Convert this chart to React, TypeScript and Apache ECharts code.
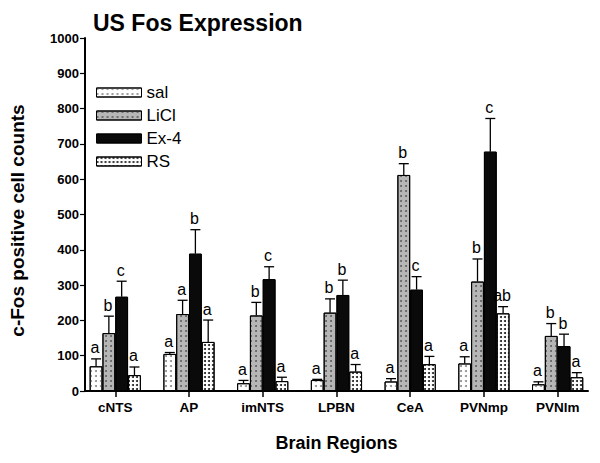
import React, { useEffect, useRef } from "react";
import * as echarts from "echarts";

const categories = ["cNTS", "AP", "imNTS", "LPBN", "CeA", "PVNmp", "PVNlm"];
const groupNames = ["sal", "LiCl", "Ex-4", "RS"];

const salMean = [70, 105, 22, 31, 27, 78, 19];
const salSem = [21, 4, 8, 2, 8, 19, 7];
const salLetters = ["a", "a", "a", "a", "a", "a", "a"];

const liclMean = [164, 218, 214, 222, 612, 310, 156];
const liclSem = [48, 39, 37, 39, 32, 64, 35];
const liclLetters = ["b", "a", "b", "b", "b", "b", "b"];

const ex4Mean = [267, 389, 317, 272, 287, 678, 127];
const ex4Sem = [44, 68, 35, 42, 37, 94, 34];
const ex4Letters = ["c", "b", "c", "b", "c", "c", "b"];

const rsMean = [45, 139, 28, 55, 76, 220, 39];
const rsSem = [23, 62, 11, 20, 22, 19, 13];
const rsLetters = ["a", "a", "a", "a", "a", "ab", "a"];

const yTicks = [0, 100, 200, 300, 400, 500, 600, 700, 800, 900, 1000];

const FONT = "Arial, 'Liberation Sans', Helvetica, sans-serif";
const BAR_W = 12.8;

const styles = [
  {
    color: "#ffffff",
    decal: { symbol: "circle", symbolSize: 1, color: "#8a8a8a", dashArrayX: [1.2, 2.8], dashArrayY: [1.2, 2.8] },
  },
  {
    color: "#b6b6b6",
    decal: { symbol: "circle", symbolSize: 0.9, color: "#555555", dashArrayX: [1.5, 3], dashArrayY: [1.5, 3] },
  },
  {
    color: "#0a0a0a",
    decal: { symbol: "circle", symbolSize: 0.8, color: "#444444", dashArrayX: [1, 3], dashArrayY: [1, 4] },
  },
  {
    color: "#ffffff",
    decal: { symbol: "circle", symbolSize: 1, color: "#1a1a1a", dashArrayX: [2, 1.2], dashArrayY: [2, 1.2] },
  },
];

export default function App() {
  const ref = useRef<HTMLDivElement>(null);
  useEffect(() => {
    if (!ref.current) return;
    document.body.style.margin = "0";
    const chart = echarts.init(ref.current, null, { renderer: "svg" });
    const means = [salMean, liclMean, ex4Mean, rsMean];
    const sems = [salSem, liclSem, ex4Sem, rsSem];
    const letters = [salLetters, liclLetters, ex4Letters, rsLetters];

    const barSeries = groupNames.map((name, g) => ({
      name,
      type: "bar",
      xAxisIndex: 1,
      yAxisIndex: 1,
      barWidth: BAR_W,
      barGap: "0%",
      data: means[g],
      itemStyle: {
        color: styles[g].color,
        borderColor: "#000",
        borderWidth: 1,
        decal: styles[g].decal,
      },
      z: 2,
    }));

    const errSeries = groupNames.map((name, g) => {
      const offset = (g - 1.5) * BAR_W;
      return {
        name: name + " err",
        type: "custom",
        xAxisIndex: 1,
        yAxisIndex: 1,
        z: 3,
        data: means[g].map((m, i) => [i, m, m + sems[g][i]]),
        encode: { x: 0, y: [1, 2] },
        renderItem: (params: any, api: any) => {
          const i = api.value(0);
          const base = api.coord([i, api.value(1)]);
          const top = api.coord([i, api.value(2)]);
          const x = base[0] + offset;
          return {
            type: "group",
            children: [
              {
                type: "line",
                shape: { x1: x, y1: base[1], x2: x, y2: top[1] },
                style: { stroke: "#000", lineWidth: 1.3 },
              },
              {
                type: "line",
                shape: { x1: x - 5, y1: top[1], x2: x + 5, y2: top[1] },
                style: { stroke: "#000", lineWidth: 1.3 },
              },
              {
                type: "text",
                style: {
                  text: letters[g][params.dataIndex],
                  x: x - 1,
                  y: top[1] - 3,
                  align: "center",
                  verticalAlign: "bottom",
                  fontSize: 16,
                  fontFamily: FONT,
                  fill: "#000",
                },
              },
            ],
          };
        },
      };
    });

    chart.setOption({
      animation: false,
      backgroundColor: "#fff",
      title: {
        text: "US Fos Expression",
        left: 88,
        top: 6,
        textStyle: { fontSize: 23, fontWeight: "bold", fontFamily: FONT, color: "#000" },
      },
      legend: {
        data: groupNames.map((name, g) => ({
          name,
          itemStyle: {
            color: styles[g].color,
            borderColor: "#000",
            borderWidth: 1,
            decal: styles[g].decal,
          },
        })),
        orient: "vertical",
        left: 91,
        top: 79,
        itemWidth: 45,
        itemHeight: 9,
        itemGap: 6,
        icon: "rect",
        textStyle: { fontSize: 17, fontFamily: FONT, color: "#000", lineHeight: 17 },
      },
      grid: [
        { left: 85, right: 12, top: 38, bottom: 72 },
        { left: 78.4, width: 516.1, top: 38, bottom: 72 },
      ],
      xAxis: [
        {
          type: "value",
          gridIndex: 0,
          min: 0,
          max: 1,
          axisLine: { show: true, lineStyle: { color: "#000", width: 2 } },
          axisTick: { show: false },
          axisLabel: { show: false },
          splitLine: { show: false },
        },
        {
          type: "category",
          gridIndex: 1,
          data: categories,
          axisLine: { show: false },
          axisTick: { show: true, alignWithLabel: true, length: 6, lineStyle: { color: "#000", width: 1.5 } },
          axisLabel: { fontSize: 13.5, fontWeight: "bold", fontFamily: FONT, color: "#000", margin: 9 },
          name: "Brain Regions",
          nameLocation: "middle",
          nameGap: 43,
          nameTextStyle: { fontSize: 18, fontWeight: "bold", fontFamily: FONT, color: "#000" },
        },
      ],
      yAxis: [
        {
          type: "value",
          gridIndex: 0,
          min: yTicks[0],
          max: yTicks[yTicks.length - 1],
          interval: 100,
          axisLine: { show: true, lineStyle: { color: "#000", width: 2 } },
          axisTick: { show: true, length: 5, lineStyle: { color: "#000", width: 1.2 } },
          axisLabel: {
            fontSize: 13,
            fontWeight: "bold",
            fontFamily: FONT,
            color: "#000",
            margin: 6,
            formatter: (v: number) => String(v),
          },
          splitLine: { show: false },
          name: "c-Fos positive cell counts",
          nameLocation: "middle",
          nameGap: 58,
          nameTextStyle: { fontSize: 19, fontWeight: "bold", fontFamily: FONT, color: "#000", padding: [0, 12, 0, 0] },
        },
        {
          type: "value",
          gridIndex: 1,
          min: yTicks[0],
          max: yTicks[yTicks.length - 1],
          interval: 100,
          show: false,
          splitLine: { show: false },
        },
      ],
      series: [...barSeries, ...errSeries],
    });
    return () => chart.dispose();
  }, []);
  return <div ref={ref} style={{ width: 600, height: 463 }} />;
}
